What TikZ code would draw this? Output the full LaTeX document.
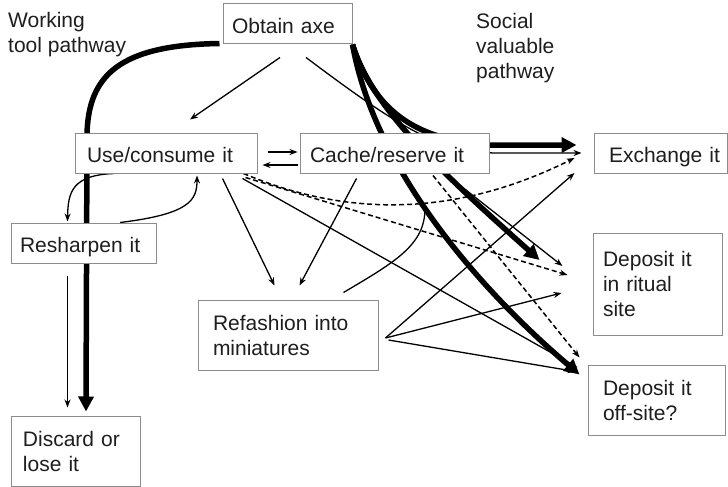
\documentclass[tikz,border=0pt]{standalone}
\usepackage{fontspec}
\setmainfont{Liberation Sans}
\usetikzlibrary{arrows.meta,calc,backgrounds}
\definecolor{boxline}{HTML}{8C8C8C}
\definecolor{ink}{HTML}{1E1E1E}
\begin{document}
\begin{tikzpicture}[x=1pt,y=-1pt,
  every node/.style={font=\fontsize{21}{25}\selectfont, text=ink},
  box/.style={draw=boxline, line width=1pt, fill=white, align=left, inner ysep=0pt},
  oneline/.style={text height=19pt, text depth=0pt},
  freetext/.style={align=left, inner sep=0pt, anchor=north west},
  conn/.style={line width=1.3pt, draw=black},
  arrowend/.style={-{Stealth[length=8pt,width=6pt]}},
  dashconn/.style={conn, line width=1.5pt, dash pattern=on 5pt off 3pt},
  heavy/.style={line width=5.5pt, -{Triangle[length=15pt,width=15pt]}},
]
\useasboundingbox (0,0) rectangle (728,487);

% boxes
\node[box, oneline, minimum width=129pt, minimum height=40pt, inner xsep=9pt, text width=111pt] (obtain) at (287.5,24) {Obtain axe};
\node[box, oneline, minimum width=182pt, minimum height=40pt, inner xsep=12pt, text width=158pt] (use) at (166,153) {Use/consume it};
\node[box, oneline, minimum width=189pt, minimum height=40pt, inner xsep=10pt, text width=169pt] (cache) at (394.5,153) {Cache/reserve it};
\node[box, oneline, minimum width=133pt, minimum height=40pt, inner xsep=6pt, text width=121pt] (exchange) at (660.5,153) {\hspace*{9pt}Exchange it};
\node[box, minimum width=129pt, minimum height=102pt, inner xsep=10pt, text width=109pt] (ritual) at (657.5,284) {Deposit it\\in ritual\\site};
\node[box, minimum width=137pt, minimum height=70pt, inner xsep=15pt, text width=107pt] (offsite) at (656.5,400) {Deposit it\\off-site?};
\node[box, oneline, minimum width=145pt, minimum height=40pt, inner xsep=9pt, text width=127pt] (resharpen) at (83.5,243) {Resharpen it};
\node[box, minimum width=129pt, minimum height=70pt, inner xsep=12pt, text width=105pt] (discard) at (75.5,451) {Discard or\\lose it};
\node[box, minimum width=180pt, minimum height=70pt, inner xsep=15pt, text width=150pt] (refashion) at (288,335) {Refashion into\\miniatures};

% pathway captions
\node[freetext] (worklabel) at (8,12) {Working\\tool pathway};
\node[freetext] (sociallabel) at (476,13) {Social\\valuable\\pathway};

\begin{scope}[on background layer]
  % working tool pathway
  \draw[heavy] ($(obtain.south west)+(-3,-1)$) .. controls (120,45) and (88,75) .. (87,135) -- ($(discard.north)+(10.5,-4)$);

  % social valuable pathway
  \draw[heavy] (obtain.south east) .. controls (375,115) and (420,140) .. (489,145) -- ($(exchange.west)+(-17,-8)$);
  \draw[heavy] (obtain.south east) .. controls (372,110) and (450,180) .. ($(ritual.west)+(-53,-24)$);
  \draw[heavy] (obtain.south east) .. controls (375,170) and (480,290) .. ($(offsite.north west)+(-8,10)$);

  % from the axe
  \draw[conn, arrowend] ($(obtain.south)+(-7.5,13)$) -- ($(use.north)+(24,-13)$);
  \draw[conn, arrowend] ($(obtain.south)+(18.5,13)$) .. controls (400,128) and (440,153) .. (498,153) -- ($(exchange.west)+(-12,0)$);

  % use and cache
  \draw[conn, arrowend] ($(use.east)+(10,-1)$) -- ($(cache.west)+(-2,-1)$);
  \draw[conn, arrowend] ($(cache.west)+(-2,12)$) -- ($(use.east)+(5,12)$);

  % resharpening loop
  \draw[conn, arrowend] ($(use.south west)+(40,0)$) .. controls (72,175) and (68,192) .. ($(resharpen.north west)+(57,-1)$);
  \draw[conn, arrowend] ($(resharpen.north)+(36.5,0)$) .. controls (190,214) and (197,200) .. ($(use.south)+(31,2)$);
  \draw[conn, arrowend] ($(resharpen.south west)+(57,12)$) -- ($(discard.north west)+(57,-8)$);

  % into miniatures
  \draw[conn, arrowend] ($(use.south east)+(-35,5)$) -- ($(refashion.north west)+(77,-14)$);
  \draw[conn, arrowend] ($(cache.south west)+(57,5)$) -- ($(refashion.north west)+(102,-14)$);

  % from use
  \draw[dashconn, arrowend] ($(use.south east)+(-14,0)$) .. controls (330,210) and (440,225) .. ($(exchange.west)+(-19,5)$);
  \draw[dashconn, arrowend] ($(use.south east)+(-12,4)$) -- ($(ritual.west)+(-25,-9)$);
  \draw[conn, arrowend] ($(use.south east)+(-15,5)$) -- ($(offsite.north west)+(-10,3)$);

  % from cache
  \draw[dashconn, arrowend] ($(cache.south)+(38.5,2)$) -- ($(offsite.north west)+(-8,-7)$);
  \draw[conn, arrowend] ($(cache.south)+(50.5,0)$) -- ($(ritual.west)+(-30,-18)$);

  % from miniatures
  \draw[conn, arrowend] ($(refashion.east)+(7,3)$) -- ($(exchange.west)+(-19,20)$);
  \draw[conn, arrowend] ($(refashion.east)+(7,3)$) -- ($(ritual.west)+(-31,9)$);
  \draw[conn, arrowend] ($(refashion.east)+(10,5)$) -- ($(offsite.north west)+(-12,7)$);
  \draw[conn] ($(refashion.north east)+(-35,-7)$) .. controls (395,262) and (425,245) .. ($(cache.south)+(30.5,35)$);
\end{scope}
\end{tikzpicture}
\end{document}
